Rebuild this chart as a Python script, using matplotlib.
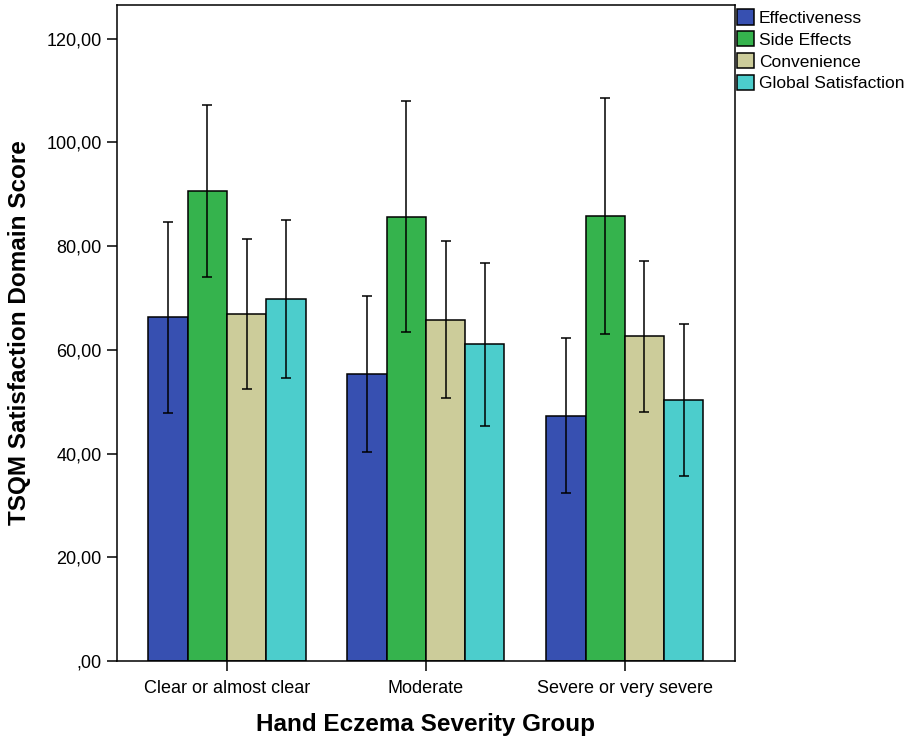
import numpy as np
import matplotlib
matplotlib.use("Agg")
from matplotlib import pyplot as plt
from matplotlib.ticker import FuncFormatter

plt.rcParams['font.family'] = ['Liberation Sans', 'DejaVu Sans']

groups = ["Clear or almost clear", "Moderate", "Severe or very severe"]
series = ["Effectiveness", "Side Effects", "Convenience", "Global Satisfaction"]

effectiveness = [66.3, 55.3, 47.3]
side_effects = [90.7, 85.7, 85.8]
convenience = [66.9, 65.8, 62.6]
global_satisfaction = [69.8, 61.1, 50.3]

# half width of the error bars
effectiveness_err = [18.4, 15.0, 14.9]
side_effects_err = [16.6, 22.3, 22.7]
convenience_err = [14.4, 15.1, 14.5]
global_satisfaction_err = [15.2, 15.7, 14.6]

colors = ['#3750B1', '#35B34D', '#CCCC9A', '#4CCDCC']

means = [effectiveness, side_effects, convenience, global_satisfaction]
errs = [effectiveness_err, side_effects_err, convenience_err, global_satisfaction_err]

fig = plt.figure(figsize=(9.06, 7.40), dpi=100)
ax = fig.add_axes([117/906, 1 - 661/740, (735 - 117)/906, (661 - 5)/740])

x = np.arange(len(groups))
width = 0.1975
for i in range(len(series)):
    pos = x + (i - 1.5) * width
    ax.bar(pos, means[i], width, color=colors[i], edgecolor='black',
           linewidth=1.1, label=series[i], zorder=2)
    ax.errorbar(pos, means[i], yerr=errs[i], fmt='none', ecolor='black',
                elinewidth=1.1, capsize=3.5, capthick=1.1, zorder=3)

ax.set_xlim(-0.553, 2.554)
ax.set_ylim(0, 126.5)
ax.set_xticks(x)
ax.set_xticklabels(groups)
ax.set_yticks(np.arange(0, 121, 20))

def fmt(v, pos):
    s = "%.2f" % v
    s = s.replace('.', ',')
    if s.startswith('0'):
        s = s[1:]
    return s

ax.yaxis.set_major_formatter(FuncFormatter(fmt))
ax.tick_params(axis='both', direction='out', length=7.5, width=1.1, labelsize=13, colors='black')
ax.tick_params(axis='x', pad=6)
for sp in ax.spines.values():
    sp.set_linewidth(1.1)

ax.set_xlabel("Hand Eczema Severity Group", fontsize=17.5, fontweight='bold', labelpad=12)
ax.set_ylabel("TSQM Satisfaction Domain Score", fontsize=17.5, fontweight='bold', labelpad=11)

leg = ax.legend(loc='upper left', bbox_to_anchor=(737/906, 1 - 9/740), bbox_transform=fig.transFigure,
                frameon=False, fontsize=12.5, handlelength=1.0, handleheight=1.0,
                handletextpad=0.25, labelspacing=0.3, borderpad=0.0, borderaxespad=0.0)

fig.savefig("out.png", dpi=100)
